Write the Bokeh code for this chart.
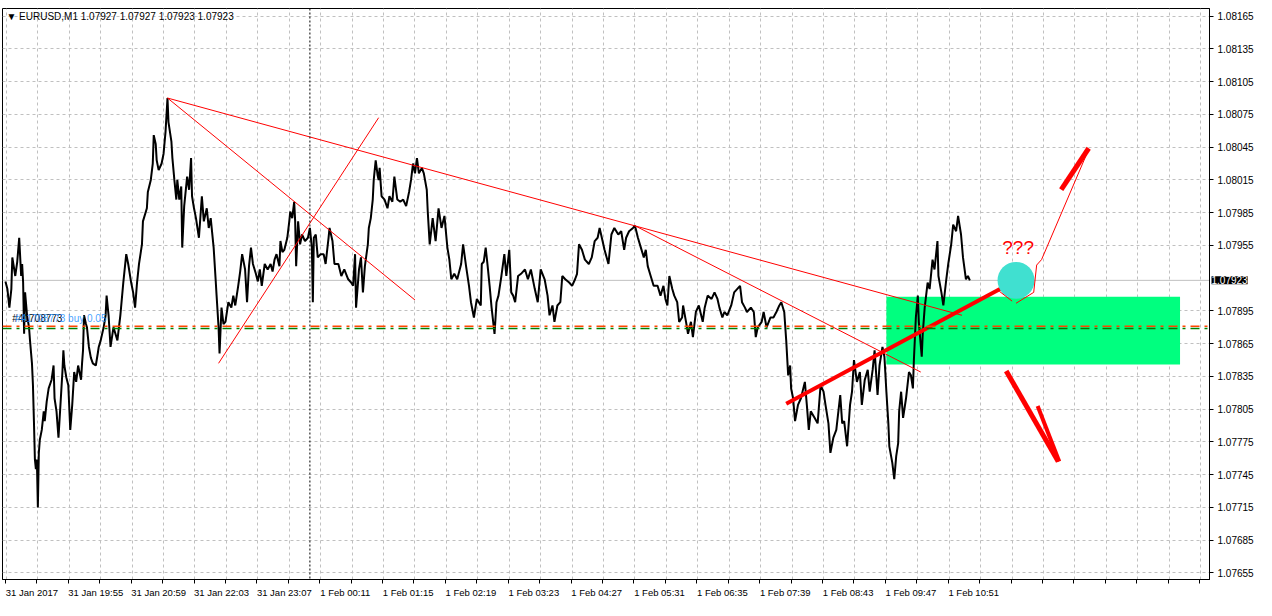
from bokeh.plotting import figure
from bokeh.models import Range1d, FixedTicker, Label, Span, ColumnDataSource
from bokeh.core.properties import value
from bokeh.embed import file_html
from bokeh.resources import INLINE

# ---------------- data ----------------
symbol_header = "\u25BC EURUSD,M1  1.07927 1.07927 1.07923 1.07923"
bid_price = 1.07923

minute = [3,5,7,9,10,13,15,17,19,20,21,22,23,25,27,28,30,31,32,33,34,35,36,37,38,40,42,43,45,47,50,52,53,55,57,58,59,61,62,63,65,67,69,71,73,75,77,80,81,82,83,85,86,88,90,92,95,97,98,100,103,105,106,108,110,113,117,120,123,126,128,131,133,135,137,139,142,143,147,148,151,153,154,156,157,159,162,164,166,168,169,172,173,175,177,178,180,182,183,185,188,190,192,193,195,197,200,203,205,208,210,212,215,217,218,220,221,223,225,227,230,233,235,237,240,242,244,247,
          249,251,253,255,258,260,262,264,267,270,273,275,277,279,282,283,285,287,290,292,293,295,297,298,299,301,303,305,308,311,313,315,316,317,319,321,324,327,329,332,333,336,338,342,345,348,352,355,357,359,360,363,365,367,369,372,373,375,377,378,380,382,383,384,386,389,392,394,397,399,402,405,408,411,414,416,418,420,422,424,427,429,432,433,435,438,441,444,447,450,453,455,457,460,463,467,469,472,475,477,480,483,487,
          488,490,492,494,496,498,501,503,505,508,511,513,516,518,520,522,525,528,532,535,538,542,545,548,552,555,557,560,562,565,568,570,573,577,580,583,585,587,590,593,597,600,603,606,608,611,613,617,620,623,627,630,633,635,638,642,644,647,650,653,655,657,660,663,667,670,673,675,677,679,682,684,687,689,692,693,696,698,701,703,706,709,713,715,718,722,725,728,
          730,733,735,738,742,745,748,751,753,756,758,762,765,767,769,773,775,778,782,785,788,791,793,796,798,800,802,803,805,807,810,813,817,819,821,823,827,830,833,836,838,841,843,846,849,853,855,857,860,863,865,867,870,873,875,878,881,883,886,888,891,893,896,898,900,902,903,906,908,910,912,913,915,917,920,923,925,927,928,930,932,933,936,937,939,942,944,947,949,952,953,956,958,961,963,966,968,971,973,976,978,981,983,985]

close = [1.07922,1.07915,1.07898,1.07915,1.07944,1.07927,1.07940,1.07962,1.07927,1.07938,1.07921,1.07874,1.07912,1.07891,1.07880,1.07868,1.07847,1.07827,1.07794,1.07759,1.07750,1.07759,1.07715,1.07765,1.07777,1.07786,1.07803,1.07794,1.07812,1.07824,1.07832,1.07845,1.07815,1.07803,1.07779,1.07794,1.07809,1.07839,1.07859,1.07845,1.07834,1.07827,1.07786,1.07809,1.07839,1.07830,1.07845,1.07832,1.07847,1.07859,1.07891,1.07883,1.07880,1.07862,1.07852,1.07847,1.07845,1.07856,1.07862,1.07868,1.07880,1.07891,1.07909,1.07891,1.07862,1.07880,1.07868,1.07891,1.07921,1.07947,1.07938,1.07921,1.07912,1.07898,1.07921,1.07938,1.07956,1.07977,1.07989,1.08004,1.08015,1.08030,1.08056,1.08048,1.08033,1.08024,1.08030,1.08039,1.08059,1.08090,1.08068,1.08050,1.08035,1.08015,1.07997,1.08015,1.07997,1.08009,1.07953,1.07991,1.08018,1.08006,1.08035,1.08000,1.07989,1.07980,1.07962,1.08000,1.07977,1.07989,1.07971,1.07980,1.07953,1.07924,1.07909,1.07880,1.07856,1.07898,1.07883,1.07885,1.07903,1.07898,1.07909,1.07900,1.07918,1.07931,1.07947,1.07933,
         1.07903,1.07936,1.07953,1.07938,1.07929,1.07922,1.07933,1.07918,1.07938,1.07933,1.07938,1.07931,1.07942,1.07947,1.07936,1.07959,1.07949,1.07951,1.07962,1.07977,1.07986,1.07980,1.07995,1.07977,1.07936,1.07977,1.07956,1.07965,1.07959,1.07962,1.07971,1.07953,1.07903,1.07962,1.07965,1.07944,1.07947,1.07947,1.07938,1.07962,1.07971,1.07959,1.07938,1.07938,1.07927,1.07933,1.07924,1.07921,1.07918,1.07947,1.07898,1.07933,1.07944,1.07912,1.07936,1.07956,1.07971,1.07980,1.07997,1.08015,1.08033,1.08019,1.08015,1.08026,1.08000,1.07997,1.07989,1.08000,1.07995,1.08018,1.07997,1.07995,1.07997,1.07991,1.08004,1.08015,1.08030,1.08021,1.08035,1.08021,1.08026,1.08021,1.08006,1.07986,1.07956,1.07980,1.07959,1.07989,1.07971,1.07982,1.07953,1.07942,1.07924,1.07929,1.07924,1.07938,1.07956,1.07936,1.07918,1.07903,1.07889,1.07906,1.07900,
         1.07938,1.07940,1.07953,1.07936,1.07918,1.07898,1.07874,1.07903,1.07909,1.07927,1.07947,1.07927,1.07951,1.07912,1.07909,1.07903,1.07927,1.07929,1.07933,1.07924,1.07933,1.07915,1.07903,1.07933,1.07924,1.07909,1.07891,1.07900,1.07885,1.07900,1.07903,1.07927,1.07924,1.07921,1.07918,1.07924,1.07929,1.07956,1.07951,1.07942,1.07938,1.07944,1.07959,1.07962,1.07971,1.07959,1.07951,1.07938,1.07965,1.07971,1.07965,1.07968,1.07951,1.07962,1.07968,1.07971,1.07973,1.07962,1.07953,1.07944,1.07951,1.07936,1.07927,1.07918,1.07918,1.07909,1.07918,1.07906,1.07900,1.07927,1.07915,1.07909,1.07903,1.07885,1.07889,1.07900,1.07885,1.07874,1.07885,1.07871,1.07894,1.07900,1.07885,1.07898,1.07909,1.07906,1.07912,1.07906,
         1.07898,1.07889,1.07894,1.07891,1.07900,1.07912,1.07915,1.07918,1.07903,1.07898,1.07894,1.07898,1.07894,1.07871,1.07880,1.07885,1.07894,1.07880,1.07889,1.07889,1.07894,1.07900,1.07903,1.07894,1.07868,1.07836,1.07845,1.07824,1.07815,1.07794,1.07809,1.07815,1.07830,1.07809,1.07786,1.07803,1.07797,1.07792,1.07827,1.07821,1.07809,1.07792,1.07765,1.07779,1.07786,1.07818,1.07792,1.07794,1.07771,1.07809,1.07821,1.07850,1.07830,1.07839,1.07809,1.07832,1.07841,1.07821,1.07841,1.07859,1.07818,1.07845,1.07862,1.07853,1.07821,1.07792,1.07771,1.07756,1.07741,1.07762,1.07774,1.07803,1.07821,1.07797,1.07815,1.07839,1.07836,1.07824,1.07850,1.07889,1.07909,1.07885,1.07853,1.07874,1.07898,1.07921,1.07915,1.07942,1.07933,1.07959,1.07927,1.07912,1.07900,1.07924,1.07938,1.07956,1.07974,1.07968,1.07982,1.07965,1.07944,1.07924,1.07927,1.07923]

time_labels = ["31 Jan 2017", "31 Jan 19:55", "31 Jan 20:59", "31 Jan 22:03", "31 Jan 23:07",
               "1 Feb 00:11", "1 Feb 01:15", "1 Feb 02:19", "1 Feb 03:23", "1 Feb 04:27",
               "1 Feb 05:31", "1 Feb 06:35", "1 Feb 07:39", "1 Feb 08:43", "1 Feb 09:47", "1 Feb 10:51"]
price_labels = ["1.07655", "1.07685", "1.07715", "1.07745", "1.07775", "1.07805", "1.07835", "1.07865",
                "1.07895", "1.07955", "1.07985", "1.08015", "1.08045", "1.08075", "1.08105", "1.08135", "1.08165"]

trend_x0 = [168, 168, 220, 644]
trend_p0 = [1.08090, 1.08090, 1.07847, 1.07973]
trend_x1 = [977, 420, 383, 935]
trend_p1 = [1.07891, 1.07905, 1.08072, 1.07839]

thick_x = [798, 1028]
thick_p = [1.07810, 1.07921]

path1_x = [1015, 1028]
path1_p = [1.07913, 1.07904]
path2_x = [1032, 1050, 1053, 1058, 1106]
path2_p = [1.07902, 1.07912, 1.07937, 1.07942, 1.08043]

up_x = [1078, 1106]
up_p = [1.08006, 1.08044]
down1_x = [1022, 1075]
down1_p = [1.07840, 1.07757]
down2_x = [1054, 1076]
down2_p = [1.07808, 1.07757]

zone_left, zone_right = 900, 1199
zone_bottom, zone_top = 1.07846, 1.07908

circle_x, circle_p = 1032, 1.07923
question_x, question_p = 1018, 1.07953

order_price_red = 1.07881
order_price_green = 1.07879
order_text = "#41708773 buy 0.05"
order_id = "#41708773"
vline_x = 313

# ---------------- figure ----------------
FONT = "Liberation Sans"
FS = 9.5
p = figure(width=1256, height=600, output_backend="svg", toolbar_location=None,
           x_range=Range1d(0, 1229), y_range=Range1d(1.07649, 1.08172),
           x_axis_location="below", y_axis_location="right")
p.min_border_left = 2
p.min_border_top = 0
p.min_border_right = 0
p.min_border_bottom = 0
p.background_fill_color = "white"
p.border_fill_color = "white"
p.outline_line_color = "black"

# Arial-like advance widths (em) to centre each label so that it starts at its tick
_w = {" ": 0.278, ":": 0.278, "J": 0.5, "a": 0.556, "n": 0.556, "F": 0.611, "e": 0.556, "b": 0.556}
def text_px(s):
    return sum(_w.get(c, 0.556) for c in s) * FS

px_per_min = 1206 / 1229.0
tick_x = [3 + 64 * i for i in range(len(time_labels))]
label_centres = [int(round(t + text_px(s) / 2 / px_per_min)) for t, s in zip(tick_x, time_labels)]
minor_x = list(range(3, 1229, 32))
p.xaxis.ticker = FixedTicker(ticks=label_centres, minor_ticks=minor_x)
p.xaxis.major_label_overrides = {c: s for c, s in zip(label_centres, time_labels)}
p.xaxis.major_label_text_font = FONT
p.xaxis.major_label_text_font_size = f"{FS}px"
p.xaxis.major_label_text_color = "black"
p.xaxis.major_label_standoff = 3
p.xaxis.major_tick_in = 0
p.xaxis.major_tick_out = 0
p.xaxis.minor_tick_in = 0
p.xaxis.minor_tick_out = 4
p.xaxis.axis_line_color = "black"
p.xaxis.minor_tick_line_color = "black"

y_vals = [float(s) for s in price_labels]
p.yaxis.ticker = FixedTicker(ticks=y_vals, minor_ticks=[])
p.yaxis.major_label_overrides = {v: s for v, s in zip(y_vals, price_labels)}
p.yaxis.major_label_text_font = FONT
p.yaxis.major_label_text_font_size = f"{FS + 0.5}px"
p.yaxis.major_label_text_color = "black"
p.yaxis.major_label_standoff = 4
p.yaxis.major_tick_in = 0
p.yaxis.major_tick_out = 4
p.yaxis.axis_line_color = "black"
p.yaxis.major_tick_line_color = "black"

p.xgrid.ticker = FixedTicker(ticks=list(range(4, 1229, 32)))
p.ygrid.ticker = FixedTicker(ticks=y_vals)
for g in (p.xgrid, p.ygrid):
    g.grid_line_color = "#C0C0C0"
    g.grid_line_dash = "3 3"
    g.grid_line_width = 1

p.quad(left=[zone_left], right=[zone_right], bottom=[zone_bottom], top=[zone_top],
       fill_color="#00FF7F", line_color=None)

p.add_layout(Span(location=bid_price, dimension="width", line_color="#C0C0C0", line_width=1, level="underlay"))
p.add_layout(Span(location=vline_x, dimension="height", line_color="black", line_width=1, line_dash="2 2"))

src = ColumnDataSource(dict(x=minute, y=close))
p.line("x", "y", source=src, line_color="black", line_width=2)

p.add_layout(Span(location=order_price_red, dimension="width", line_color="#FF4500", line_width=1.5, line_dash="9 5 3 5"))
p.add_layout(Span(location=order_price_green, dimension="width", line_color="#008000", line_width=1.5, line_dash="9 5 3 5"))

p.segment(x0=trend_x0, y0=trend_p0, x1=trend_x1, y1=trend_p1, line_color="red", line_width=1)
p.line(thick_x, thick_p, line_color="red", line_width=4)

p.scatter([circle_x], [circle_p], size=37, fill_color="#40E0D0", line_color=None)
p.line(path1_x, path1_p, line_color="red", line_width=1)
p.line(path2_x, path2_p, line_color="red", line_width=1)
p.line(up_x, up_p, line_color="red", line_width=5)
p.line(down1_x, down1_p, line_color="red", line_width=5)
p.line(down2_x, down2_p, line_color="red", line_width=4)

p.text(x=[question_x], y=[question_p], text=["???"], text_color="red",
       text_font=value(FONT), text_font_size="19px", text_baseline="alphabetic", text_align="left")

p.text(x=[10], y=[order_price_red + 0.00002], text=[order_id], text_color="black",
       text_font=value(FONT), text_font_size="10px", text_baseline="bottom")
p.text(x=[13], y=[order_price_red + 0.00002], text=[order_text], text_color="#1E90FF",
       text_font=value(FONT), text_font_size="10px", text_baseline="bottom", text_alpha=0.85)

p.add_layout(Label(x=4, y=1.08165, text=symbol_header, text_font=FONT, text_font_size="10px",
                   text_color="black", text_baseline="middle"))

# bid price box: placed in a side panel so it may sit on the price axis
bid_label = Label(x=1229, y=bid_price, x_units="data", y_units="data", text="1.07923",
                  x_offset=2, text_font=FONT, text_font_size="10px", text_color="white",
                  text_baseline="middle", background_fill_color="black")
p.add_layout(bid_label, "above")

open("out.html", "w").write(file_html(p, INLINE))
